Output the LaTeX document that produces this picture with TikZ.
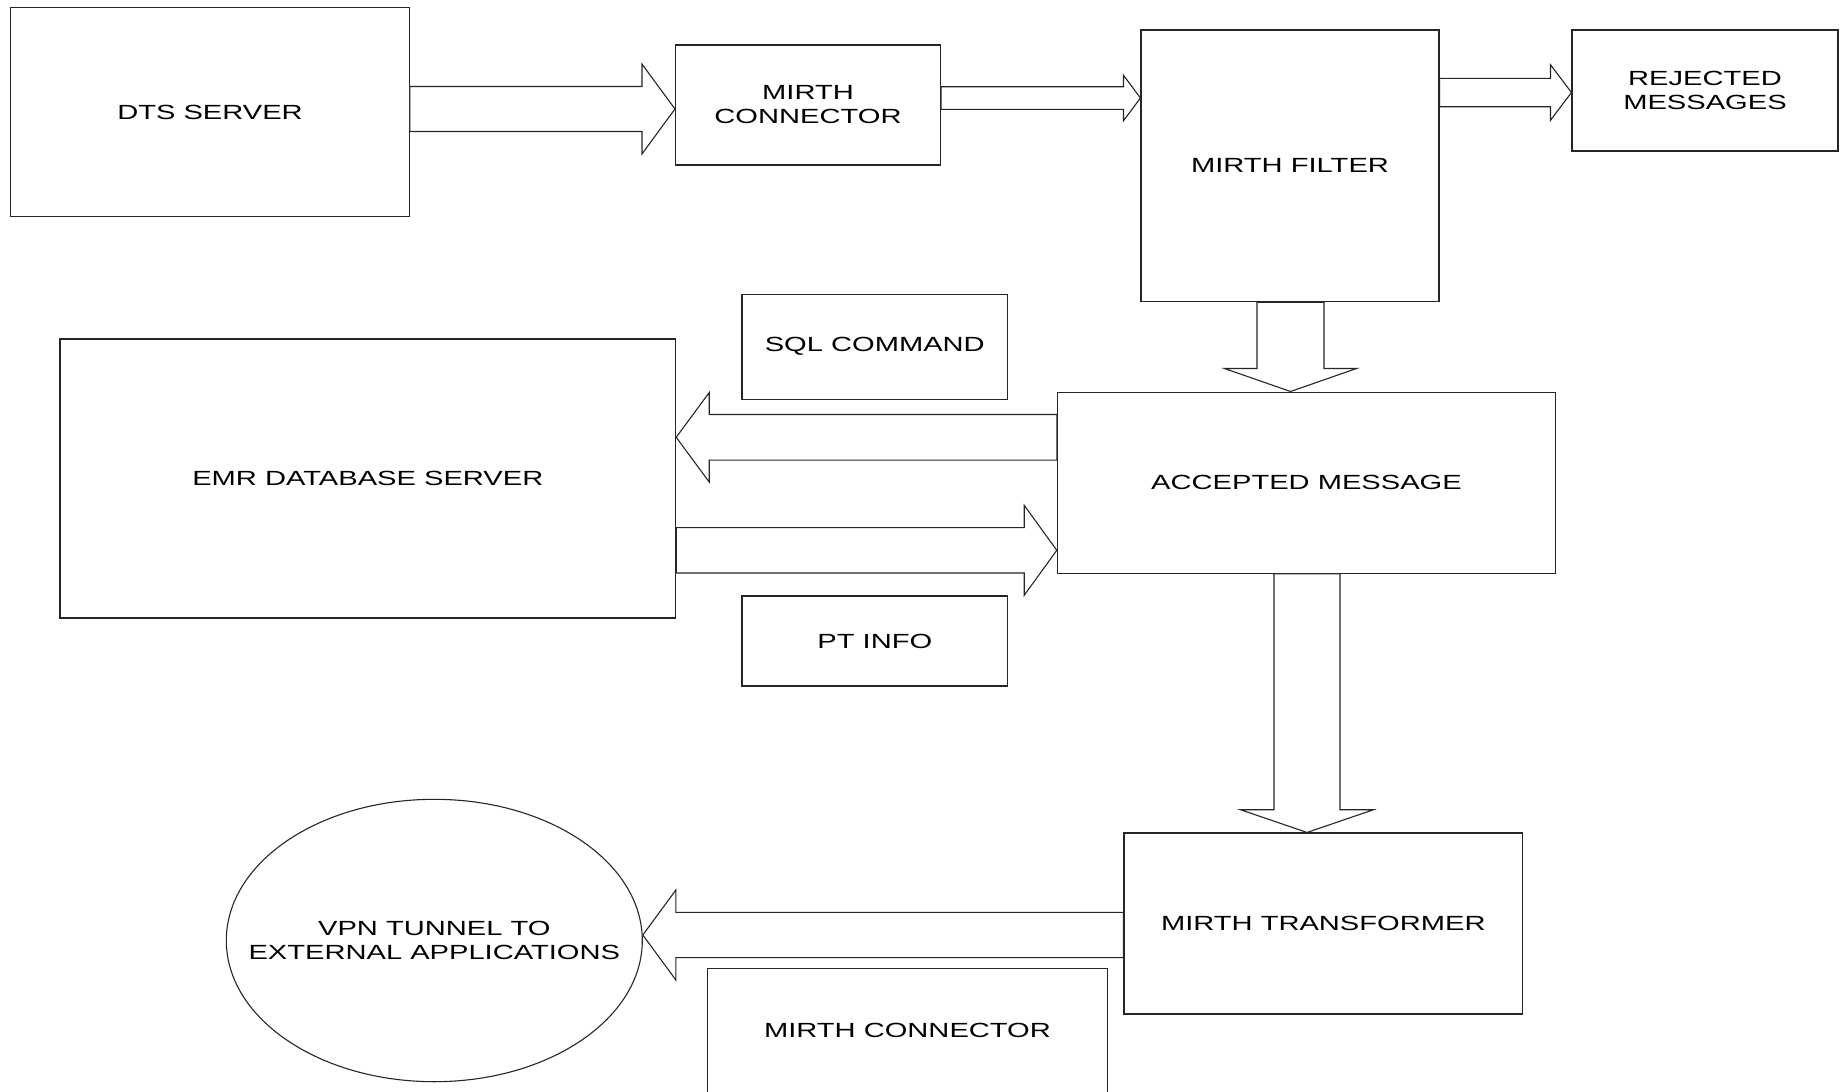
\documentclass[tikz,border=0pt]{standalone}
\usepackage{fontspec}
\setmainfont{Liberation Sans}[FakeStretch=1.42]
\usetikzlibrary{calc,shapes.geometric}
\tikzset{
  ln/.style={draw=black!85, line width=1.1pt},
  box/.style={ln, rectangle, inner sep=0pt, align=center, font=\fontsize{20.5}{24}\selectfont},
  oval/.style={ln, ellipse, inner sep=0pt},
  txt/.style={inner sep=0pt, align=center, font=\fontsize{20.5}{24}\selectfont},
  blk/.style={ln, fill=white, line join=miter},
}
% #1 tail, #2 tip, #3 half shaft width, #4 half head width, #5 head length
\newcommand\blockarrow[5]{%
  \coordinate (ba-c) at ($(#2)!#5!(#1)$);
  \draw[blk] ($(#1)!#3!90:(#2)$) -- ($(ba-c)!#3!-90:(#1)$) -- ($(ba-c)!#4!-90:(#1)$)
    -- (#2) -- ($(ba-c)!#4!90:(#1)$) -- ($(ba-c)!#3!90:(#1)$) -- ($(#1)!#3!-90:(#2)$) -- cycle;}
\begin{document}
\begin{tikzpicture}[x=1pt,y=-1pt]
\useasboundingbox (0,0) rectangle (1845,1092);
\clip (0,0) rectangle (1845,1092);
\fill[white] (0,0) rectangle (1845,1092);

% boxes
\node[box, minimum width=398.5pt, minimum height=209pt] (dts) at (210,112) {DTS SERVER};
\node[box, minimum width=265pt, minimum height=120pt] (mc1) at (808,105) {MIRTH\\CONNECTOR};
\node[box, minimum width=298pt, minimum height=271.7pt] (filter) at (1290,165.8) {MIRTH FILTER};
\node[box, minimum width=266pt, minimum height=121pt] (rej) at (1705,90.5) {REJECTED\\MESSAGES};
\node[box, minimum width=265.7pt, minimum height=105.3pt] (sql) at (874.8,346.7) {SQL COMMAND};
\node[box, minimum width=615.7pt, minimum height=279pt] (emr) at (367.8,478.5) {EMR DATABASE SERVER};
\node[box, minimum width=498.3pt, minimum height=181.3pt] (acc) at (1306.5,482.7) {ACCEPTED MESSAGE};
\node[box, minimum width=265.7pt, minimum height=90pt] (pt) at (874.8,641) {PT INFO};
\node[box, minimum width=398.6pt, minimum height=181pt] (trans) at (1323.3,923.5) {MIRTH TRANSFORMER};
\node[oval, minimum width=416pt, minimum height=282.4pt] (vpn) at (434.3,940.5) {};
\node[txt] (vpntxt) at (vpn.center) {VPN TUNNEL TO\\EXTERNAL APPLICATIONS};
\node[txt, minimum width=399pt, minimum height=123pt] (mc2) at (907.5,1030.5) {MIRTH CONNECTOR};
\draw[ln] ([yshift=-20pt]mc2.south west) -- (mc2.north west) -- (mc2.north east) -- ([yshift=-20pt]mc2.south east);

% helper levels for the block arrows
\coordinate (h1) at (0,109);
\coordinate (h2) at (0,98);
\coordinate (h3) at (0,92.5);
\coordinate (v4) at (1290.5,0);
\coordinate (h5) at (0,437.3);
\coordinate (h6) at (0,550.3);
\coordinate (v7) at (1307,0);
\coordinate (h8) at (0,935);

\blockarrow{dts.east |- h1}{mc1.west |- h1}{22.5pt}{45pt}{33pt}
\blockarrow{mc1.east |- h2}{filter.west |- h2}{11.3pt}{22.8pt}{17pt}
\blockarrow{filter.east |- h3}{rej.west |- h3}{14.2pt}{27.8pt}{21pt}
\blockarrow{v4 |- filter.south}{v4 |- acc.north}{33.5pt}{66pt}{23pt}
\blockarrow{acc.west |- h5}{emr.east |- h5}{22.8pt}{44.7pt}{33pt}
\blockarrow{emr.east |- h6}{acc.west |- h6}{22.7pt}{45pt}{32.6pt}
\blockarrow{v7 |- acc.south}{v7 |- trans.north}{33pt}{66.4pt}{22.7pt}
\blockarrow{trans.west |- h8}{vpn.east |- h8}{22.6pt}{45pt}{33pt}
\end{tikzpicture}
\end{document}
